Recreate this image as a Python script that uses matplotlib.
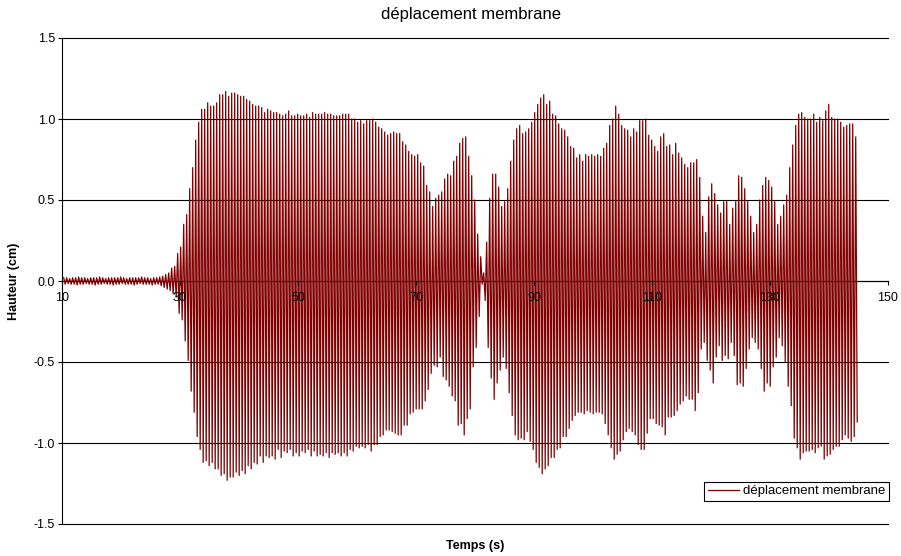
import numpy as np
import matplotlib
matplotlib.use('Agg')
import matplotlib.pyplot as plt
from matplotlib.ticker import FormatStrFormatter

plt.rcParams['font.family'] = ['Liberation Sans', 'DejaVu Sans']

# oscillation period (s) and time of the first crest
period = 0.5085
t_first = 10.284

# crest / trough heights (cm), one value per cycle
quiet_up = [0.02, 0.02, 0.015, 0.02, 0.02, 0.025, 0.02, 0.02, 0.015, 0.02,
            0.02, 0.02, 0.025, 0.02, 0.015, 0.02, 0.02, 0.02, 0.02, 0.025,
            0.02, 0.015, 0.02, 0.02, 0.02, 0.02, 0.025, 0.02, 0.02, 0.015,
            0.02, 0.02, 0.025, 0.03, 0.04, 0.05]
quiet_low = [-0.02, -0.015, -0.02, -0.02, -0.025, -0.02, -0.02, -0.015, -0.02, -0.02,
             -0.025, -0.02, -0.02, -0.015, -0.02, -0.02, -0.025, -0.02, -0.02, -0.015,
             -0.02, -0.02, -0.02, -0.025, -0.02, -0.015, -0.02, -0.02, -0.02, -0.025,
             -0.02, -0.02, -0.03, -0.04, -0.05, -0.06]

part1_up = [0.08, 0.09, 0.17, 0.21, 0.35,
            0.41, 0.57, 0.70, 0.87, 0.98, 1.06, 1.06, 1.10, 1.08, 1.08,
            1.10, 1.15, 1.15, 1.17, 1.14, 1.16, 1.16, 1.15, 1.14, 1.14,
            1.12, 1.11, 1.09, 1.08, 1.08, 1.07, 1.04, 1.06, 1.05, 1.04,
            1.04, 1.03, 1.02, 1.03, 1.05, 1.02, 1.02, 1.03, 1.02, 1.02,
            1.03, 1.01, 1.04, 1.03, 1.03, 1.03, 1.04, 1.03, 1.03, 1.02,
            1.02, 1.02, 1.03, 1.03, 1.03, 1.00, 1.00, 0.98, 0.99, 0.97,
            0.99, 0.99, 1.00, 0.98, 0.95, 0.94, 0.92, 0.90, 0.91, 0.92,
            0.91, 0.91, 0.86, 0.84, 0.80, 0.78, 0.77, 0.78, 0.73, 0.71,
            0.59, 0.55, 0.46, 0.51, 0.53, 0.55, 0.63, 0.66, 0.65, 0.74,
            0.77, 0.85, 0.88, 0.89, 0.77]
part1_low = [-0.08, -0.10, -0.20, -0.24, -0.37,
             -0.49, -0.68, -0.81, -0.96, -1.04, -1.12, -1.11, -1.14, -1.12, -1.16,
             -1.16, -1.20, -1.19, -1.23, -1.21, -1.21, -1.18, -1.20, -1.17, -1.19,
             -1.14, -1.16, -1.12, -1.13, -1.08, -1.12, -1.08, -1.09, -1.08, -1.10,
             -1.04, -1.09, -1.05, -1.06, -1.04, -1.08, -1.06, -1.08, -1.05, -1.06,
             -1.04, -1.08, -1.05, -1.08, -1.07, -1.08, -1.06, -1.09, -1.06, -1.07,
             -1.06, -1.08, -1.06, -1.08, -1.04, -1.05, -1.02, -1.03, -1.02, -1.03,
             -1.01, -1.05, -1.01, -1.01, -0.96, -0.95, -0.92, -0.92, -0.93, -0.94,
             -0.95, -0.95, -0.89, -0.89, -0.82, -0.81, -0.79, -0.79, -0.79, -0.74,
             -0.67, -0.57, -0.52, -0.53, -0.47, -0.59, -0.61, -0.65, -0.71, -0.74,
             -0.89, -0.88, -0.95, -0.85, -0.79]

part2_up = [0.65, 0.50, 0.29, 0.15, 0.05, 0.24, 0.51, 0.66, 0.66, 0.58,
            0.46, 0.49, 0.57, 0.74, 0.87, 0.94, 0.96, 0.91, 0.92, 0.94,
            0.98, 1.04, 1.09, 1.13, 1.15, 1.09, 1.11, 1.03, 1.02, 0.97,
            0.94, 0.93, 0.89, 0.83, 0.82, 0.76, 0.78, 0.74, 0.78, 0.77,
            0.78, 0.77, 0.78, 0.77, 0.82, 0.85, 0.96, 1.00, 1.08, 1.03,
            0.96, 0.94, 0.93, 0.89, 0.94, 0.92, 0.99, 0.99, 1.00, 0.90,
            0.87, 0.83, 0.80, 0.89, 0.91, 0.83, 0.84, 0.78, 0.85, 0.79,
            0.76, 0.72, 0.70, 0.73, 0.73, 0.75, 0.64, 0.40, 0.30, 0.52,
            0.60, 0.54, 0.47, 0.42, 0.49, 0.49, 0.35, 0.45, 0.49, 0.65,
            0.64, 0.57, 0.49, 0.40, 0.30, 0.35, 0.50, 0.59, 0.64, 0.62]
part2_low = [-0.53, -0.41, -0.22, -0.02, -0.12, -0.41, -0.60, -0.73, -0.63, -0.55,
             -0.47, -0.54, -0.69, -0.83, -0.95, -0.98, -0.97, -0.98, -0.93, -0.99,
             -1.04, -1.12, -1.15, -1.19, -1.16, -1.14, -1.09, -1.09, -1.04, -1.03,
             -0.96, -0.96, -0.91, -0.86, -0.83, -0.81, -0.81, -0.82, -0.80, -0.81,
             -0.82, -0.81, -0.81, -0.82, -0.88, -0.95, -1.03, -1.10, -1.07, -1.05,
             -0.98, -0.93, -0.91, -0.93, -0.95, -1.01, -1.04, -1.04, -0.94, -0.85,
             -0.85, -0.88, -0.89, -0.90, -0.95, -0.84, -0.84, -0.83, -0.80, -0.76,
             -0.74, -0.71, -0.73, -0.73, -0.80, -0.69, -0.42, -0.38, -0.49, -0.55,
             -0.63, -0.47, -0.40, -0.49, -0.46, -0.48, -0.38, -0.46, -0.64, -0.63,
             -0.65, -0.54, -0.42, -0.35, -0.38, -0.42, -0.54, -0.68, -0.63, -0.65]

part3_up = [0.58, 0.49, 0.35, 0.40, 0.47, 0.53, 0.70, 0.84, 0.96, 1.03,
            1.04, 1.01, 1.00, 1.00, 1.03, 0.98, 1.01, 0.99, 1.05, 1.09,
            1.01, 1.00, 1.00, 0.98, 0.95, 0.96, 0.97, 0.97, 0.89]
part3_low = [-0.53, -0.47, -0.35, -0.40, -0.50, -0.65, -0.77, -0.97, -1.03, -1.10,
             -1.06, -1.05, -1.05, -1.04, -1.06, -1.03, -1.02, -1.10, -1.08, -1.07,
             -1.04, -1.02, -1.02, -0.98, -0.95, -0.97, -0.99, -0.96, -0.87]

x_ticks = [10, 30, 50, 70, 90, 110, 130, 150]
y_ticks = [-1.5, -1.0, -0.5, 0.0, 0.5, 1.0, 1.5]

up = np.array(quiet_up + part1_up + part2_up + part3_up)
low = np.array(quiet_low + part1_low + part2_low + part3_low)
t_up = t_first + period * np.arange(len(up))
t_low = t_up + period / 2

t = np.empty(2 * len(up))
h = np.empty(2 * len(up))
t[0::2], t[1::2] = t_up, t_low
h[0::2], h[1::2] = up, low

fig = plt.figure(figsize=(9.01, 5.56), dpi=100)
ax = fig.add_axes([62 / 901, 32 / 556, 826 / 901, 486 / 556])

# horizontal gridlines, under the curve
for yv in y_ticks:
    ax.axhline(yv, color='black', lw=0.8, zorder=0.5, clip_on=False)

ax.plot(t, h, color='#800000', lw=0.9, label='déplacement membrane', zorder=2)

ax.set_xlim(10, 150)
ax.set_ylim(-1.5, 1.5)
ax.set_xticks(x_ticks)
ax.set_yticks(y_ticks)
ax.yaxis.set_major_formatter(FormatStrFormatter('%.1f'))
ax.set_axisbelow(False)  # tick labels drawn over the curve

for s in ['top', 'right']:
    ax.spines[s].set_visible(False)
ax.spines['bottom'].set_position(('data', 0))
ax.spines['bottom'].set_zorder(1)
ax.spines['left'].set_linewidth(0.8)
ax.spines['bottom'].set_linewidth(0.8)
ax.tick_params(axis='both', direction='out', length=3, width=0.8, labelsize=9, pad=2)
ax.tick_params(axis='x', pad=5)

fig.text(471 / 901, 1 - 15 / 556, 'déplacement membrane', ha='center', va='center', fontsize=12)
fig.text(14 / 901, 1 - 281 / 556, 'Hauteur (cm)', ha='center', va='center',
         rotation=90, fontsize=9, fontweight='bold')
fig.text(475 / 901, 1 - 546 / 556, 'Temps (s)', ha='center', va='center',
         fontsize=9, fontweight='bold')

leg = ax.legend(loc='lower right', bbox_to_anchor=(1.001, 0.048), fontsize=9.5,
                fancybox=False, edgecolor='black', framealpha=1,
                borderpad=0.25, handlelength=2.4, handletextpad=0.3, borderaxespad=0)
leg.get_frame().set_linewidth(0.8)
leg.set_zorder(5)

fig.savefig('out.png', dpi=100)
